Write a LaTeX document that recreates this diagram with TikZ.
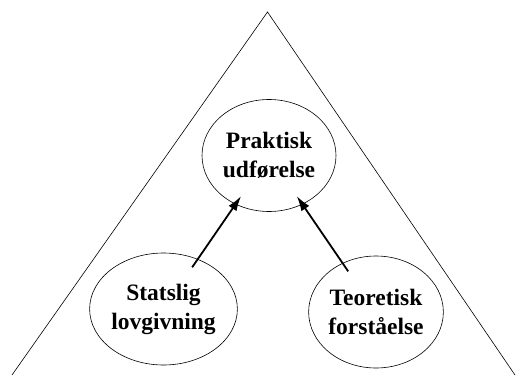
\documentclass[tikz,border=0pt]{standalone}
\usepackage{fontspec}
\setmainfont{Liberation Serif}
\usetikzlibrary{shapes.geometric,arrows.meta}

\begin{document}
\begin{tikzpicture}[x=1pt, y=-1pt,
  felt/.style={ellipse, draw, line width=0.6pt, minimum width=134pt, minimum height=112pt,
    inner sep=0pt, align=center, font=\fontsize{23.5}{29}\selectfont\bfseries},
  pil/.style={-{Latex[length=15pt,width=9.5pt]}, line width=1.8pt, shorten <=-10pt, shorten >=-10pt}]
  \useasboundingbox (0,0) rectangle (529,385);
  \coordinate (top) at (267.5,12);
  \coordinate (vb) at (12,375);
  \coordinate (hb) at (515,375);
  \draw[line width=0.6pt] (vb) -- (top) -- (hb);
  \node[felt] (p) at (269,155.5) {Praktisk\\udførelse};
  \node[felt] (s) at (163.5,309) {Statslig\\lovgivning};
  \node[felt] (t) at (376,312) {Teoretisk\\forståelse};
  \draw[pil] (s)--(p);
  \draw[pil] (t)--(p);
\end{tikzpicture}
\end{document}
